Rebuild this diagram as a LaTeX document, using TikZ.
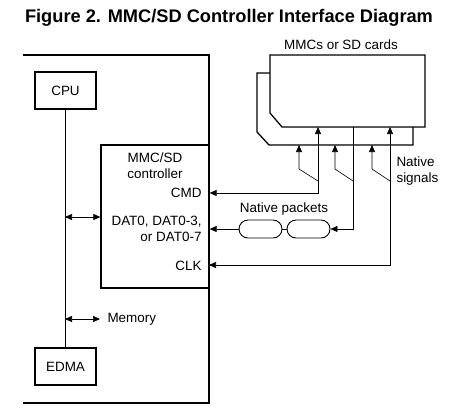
\documentclass[tikz,border=0pt]{standalone}
\usepackage{fontspec}
\setmainfont{Liberation Sans}
\usetikzlibrary{arrows.meta,shapes.misc,positioning}

\begin{document}
\begin{tikzpicture}[x=1bp, y=-1bp, font=\fontsize{13.5}{15.5}\selectfont,
    blk/.style={draw, line width=1.3pt, minimum width=61bp, minimum height=37bp, inner sep=0pt},
    sig/.style={line width=0.6pt},
    tips/.style={{Triangle[length=7bp,width=6bp]}-{Triangle[length=7bp,width=6bp]}},
    tip/.style={-{Triangle[length=7bp,width=6bp]}},
    pkt/.style={draw, rounded rectangle, line width=0.9pt, minimum width=43bp, minimum height=18bp, inner sep=0pt}]
    \useasboundingbox (0,0) rectangle (459,417);

    % Title
    \node[font=\fontsize{18.3}{20}\bfseries\selectfont] (title) at (229,18) {Figure 2. MMC/SD Controller Interface Diagram};

    % Device outline
    \draw[line width=1.8pt] (23,55) -- (209,55) -- (209,403) -- (23,403);

    % CPU, EDMA and bus
    \node[blk] (cpu) at (65.5,90.5) {CPU};
    \node[blk] (edma) at (65.5,366.5) {EDMA};
    \draw[sig] (cpu) -- (edma);

    % Controller
    \node[draw, line width=1.3pt, minimum width=108bp, minimum height=143bp, inner sep=0pt] (ctrl) at (155,216.5) {};
    \node[align=center] (ctrlname) at (155,165.5) {MMC/SD\\controller};
    \node[anchor=east] (cmd) at (205,193) {CMD};
    \node[anchor=east, align=right] (dat) at (205,229) {DAT0, DAT0-3,\\or DAT0-7};
    \node[anchor=east] (clk) at (205,266) {CLK};

    \coordinate (bus1) at (65,217);
    \draw[sig,tips] (bus1) -- (bus1 -| ctrl.west);

    % Memory
    \coordinate (bus2) at (65,319);
    \coordinate (mem) at (100,319);
    \draw[sig,tips] (bus2) -- (mem);
    \node[anchor=west] (memtxt) at (104,319) {Memory};

    % Cards
    \node (cards) at (341,45) {MMCs or SD cards};
    \draw[line width=1.3pt] (270,55) -- (425,55) -- (425,127) -- (282,127) -- (270,113) -- cycle;
    \draw[line width=1.3pt] (270,73) -- (257,73) -- (257,132) -- (269,145) -- (413,145) -- (413,127);

    \coordinate (f1) at (318,127);
    \coordinate (f2) at (353,127);
    \coordinate (f3) at (390,127);
    \coordinate (b1) at (299,145);
    \coordinate (b2) at (335,145);
    \coordinate (b3) at (372,145);

    % Native packets
    \node[pkt] (pkt1) at (260.5,229) {};
    \node[pkt] (pkt2) at (308.5,229) {};
    \node (pkttxt) at (284,209) {Native packets};

    % Signals
    \draw[sig,tips] (f1) -- (f1 |- cmd) -- (cmd -| ctrl.east);
    \draw[sig,tip] (f2) -- (f2 |- pkt2) -- (pkt2.east);
    \draw[sig] (pkt2.west) -- (pkt1.east);
    \draw[sig,tip] (pkt1.west) -- (pkt1 -| ctrl.east);
    \draw[sig,tips] (f3) -- (390,265) -- (209,265);
    \draw[sig,tip] (318,181) -- (299,169) -- (b1);
    \draw[sig,tip] (353,181) -- (335,169) -- (b2);
    \draw[sig,tip] (390,181) -- (372,169) -- (b3);
    \node[anchor=west, align=left] (sigtxt) at (393,171) {Native\\signals};
\end{tikzpicture}
\end{document}
